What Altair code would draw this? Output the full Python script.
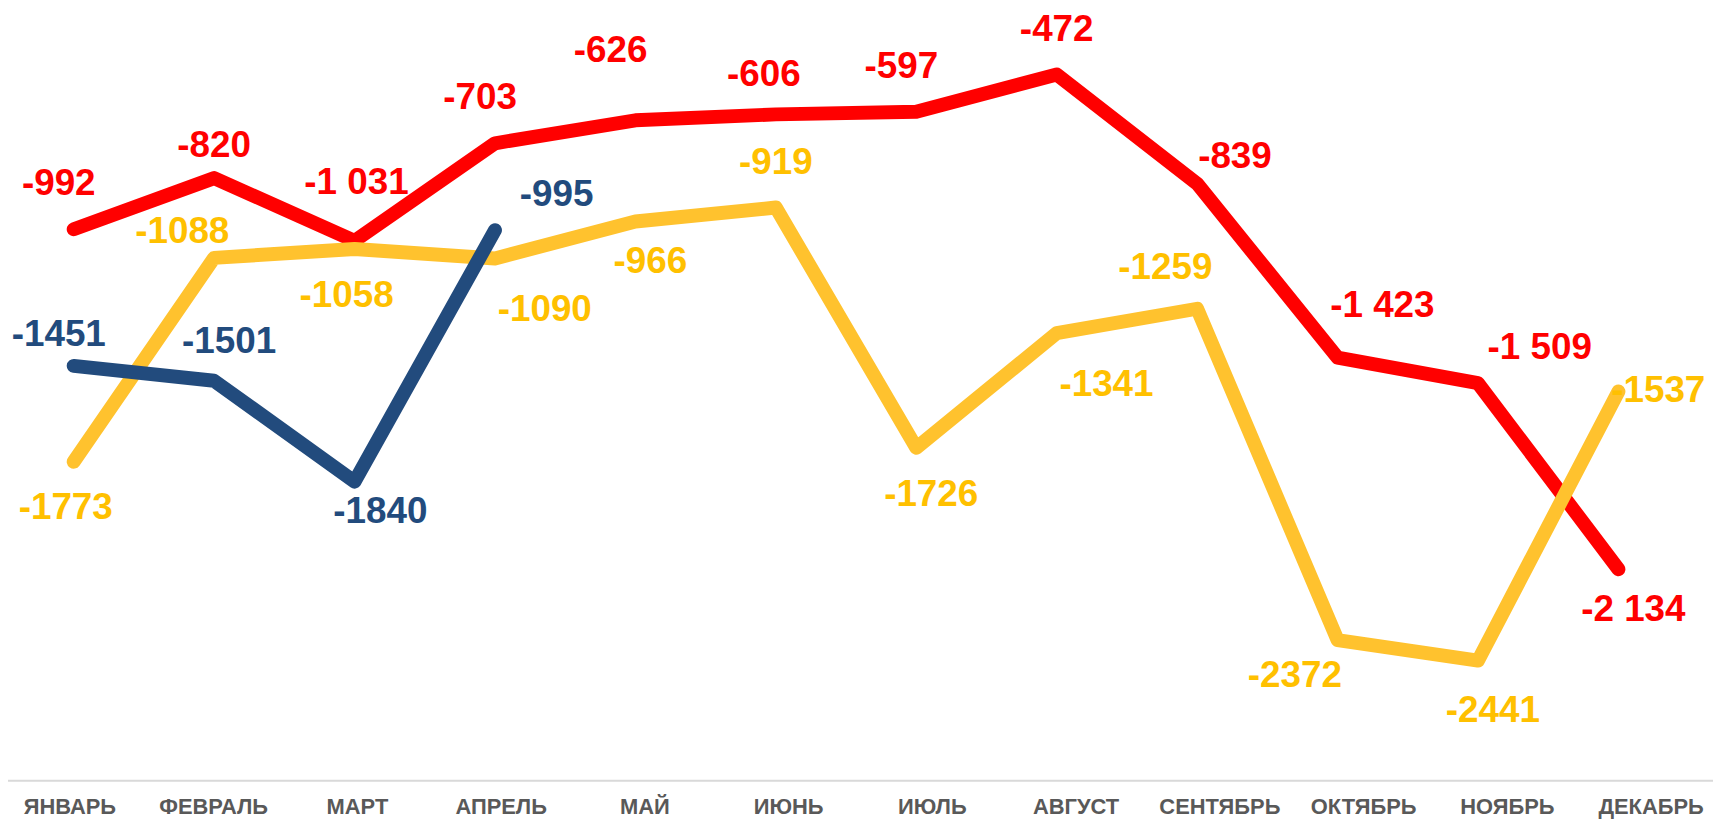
import altair as alt
import pandas as pd

MONTHS = ["ЯНВАРЬ", "ФЕВРАЛЬ", "МАРТ", "АПРЕЛЬ", "МАЙ", "ИЮНЬ",
          "ИЮЛЬ", "АВГУСТ", "СЕНТЯБРЬ", "ОКТЯБРЬ", "НОЯБРЬ", "ДЕКАБРЬ"]

RED = [-992, -820, -1031, -703, -626, -606, -597, -472, -839, -1423, -1509, -2134]
YELLOW = [-1773, -1088, -1058, -1090, -966, -919, -1726, -1341, -1259, -2372, -2441, -1537]
BLUE = [-1451, -1501, -1840, -995]

# label placement keywords (like Excel's label position setting)
RED_POS = ["NW", "N_LOW", "N_HIGH", "NW", "NW_HIGH", "NW_LOW", "NW", "N", "NE_LOW", "NE_HIGH", "NE", "SSE"]
YELLOW_POS = ["S", "WNW", "S", "SE", "SSE", "N", "S_RIGHT", "SE", "WNW_HIGH", "SW", "S_LOW", "E"]
BLUE_POS = ["NW_LOW2", "NNE", "SE_SMALL", "NE"]

OFFSETS = {
    "N": (0, -45), "N_LOW": (0, -32), "N_HIGH": (2, -58),
    "NW": (-15, -45), "NW_HIGH": (-25, -70), "NW_LOW": (-12, -40), "NW_LOW2": (-15, -31),
    "WNW": (-32, -26), "WNW_HIGH": (-32, -41),
    "NE": (62, -35), "NE_LOW": (38, -27), "NE_HIGH": (45, -52), "NNE": (15, -39),
    "S": (-8, 47), "S_RIGHT": (15, 47), "S_LOW": (15, 51), "SSE": (15, 41),
    "SE": (50, 52), "SE_SMALL": (26, 30),
    "SW": (-43, 36), "E": (40, 0),
}

LINE_COLORS = {"red": "#FF0000", "yellow": "#FFC22E", "blue": "#224B7D"}
TEXT_COLORS = {"red": "#FF0000", "yellow": "#FFC000", "blue": "#224B7D"}
FONT = "Liberation Sans"


def fmt_space(v):
    return f"{v:,}".replace(",", " ")


rows = []
for m, v, p in zip(MONTHS, RED, RED_POS):
    rows.append({"month": m, "series": "red", "value": v, "label": fmt_space(v), "pos": p})
for m, v, p in zip(MONTHS, YELLOW, YELLOW_POS):
    rows.append({"month": m, "series": "yellow", "value": v, "label": str(v), "pos": p})
for m, v, p in zip(MONTHS, BLUE, BLUE_POS):
    rows.append({"month": m, "series": "blue", "value": v, "label": str(v), "pos": p})
df = pd.DataFrame(rows)

base = alt.Chart(df)

x_pts = alt.X("month:N", scale=alt.Scale(type="point", domain=MONTHS, range=[66, 1618], padding=0), axis=None)
y_enc = alt.Y("value:Q", scale=alt.Scale(domain=[-2843, -255], nice=False, zero=False), axis=None)

lines = [
    base.transform_filter(alt.datum.series == s)
    .mark_line(strokeWidth=14, strokeCap="round", strokeJoin="round", color=LINE_COLORS[s])
    .encode(x=x_pts, y=y_enc)
    for s in ["red", "yellow", "blue"]
]

color_enc = alt.Color(
    "series:N",
    scale=alt.Scale(domain=list(TEXT_COLORS.keys()), range=list(TEXT_COLORS.values())),
    legend=None,
)

texts = [
    base.transform_filter(alt.datum.pos == k)
    .mark_text(dx=dx, dy=dy, fontSize=37, fontWeight="bold", font=FONT, align="center", baseline="middle")
    .encode(x=x_pts, y=y_enc, text="label:N", color=color_enc)
    for k, (dx, dy) in OFFSETS.items()
]

axis_layer = alt.Chart(pd.DataFrame({"month": MONTHS})).mark_point(opacity=0).encode(
    x=alt.X(
        "month:N",
        scale=alt.Scale(type="band", domain=MONTHS, range=[-10, 1723], paddingInner=0, paddingOuter=0),
        axis=alt.Axis(
            title=None, ticks=False, grid=False, domainColor="#D9D9D9", domainWidth=2,
            labelColor="#595959", labelFont=FONT, labelFontSize=22, labelFontWeight="bold",
            labelPadding=16, labelAngle=0, labelOverlap=False,
        ),
    )
)

chart = (
    alt.layer(axis_layer, alt.layer(*lines, *texts))
    .resolve_scale(x="independent")
    .properties(
        width=1705, height=774, autosize="none",
        padding={"left": 0, "top": 0, "right": 8, "bottom": 37},
        background="white",
    )
    .configure_view(stroke=None)
)

chart.save("out.html", embed_options={"renderer": "svg", "actions": False})
